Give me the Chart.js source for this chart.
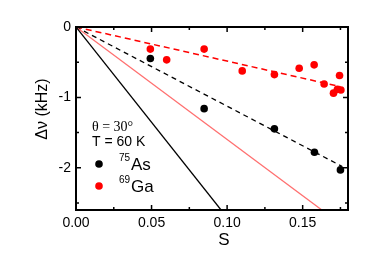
<!DOCTYPE html>
<html><head><meta charset="utf-8">
<script src="https://cdn.jsdelivr.net/npm/chart.js@4/dist/chart.umd.min.js"></script>
<style>html,body{margin:0;padding:0;background:#fff}#wrap{width:379px;height:267px}</style>
</head><body><div id="wrap"><canvas id="c" width="379" height="267"></canvas></div>
<script>
// 75As data
const asS  = [0.0492, 0.0848, 0.1313, 0.1578, 0.1750];
const asDv = [-0.447, -1.16, -1.447, -1.78, -2.03];
// 69Ga data
const gaS  = [0.0492, 0.0600, 0.0848, 0.1100, 0.1313, 0.1477, 0.1576, 0.1642, 0.1704, 0.1744, 0.1730, 0.1753];
const gaDv = [-0.314, -0.467, -0.314, -0.624, -0.676, -0.586, -0.538, -0.810, -0.940, -0.690, -0.886, -0.896];
// lines (endpoints)
const asFitS = [0, 0.176],  asFitDv = [0, -1.98];
const gaFitS = [0, 0.175],  gaFitDv = [0, -0.848];
const asCalcS = [0, 0.096], asCalcDv = [0, -2.6];
const gaCalcS = [0, 0.1627], gaCalcDv = [0, -2.6];
// ticks
const xTicks = [0, 0.05, 0.10, 0.15];
const xMinor = [0.025, 0.075, 0.125, 0.175];
const yTicks = [0, -1, -2];
const yMinor = [-0.5, -1.5, -2.5];

const pts = (xs, ys) => xs.map((x, i) => ({x, y: ys[i]}));

const framePlugin = {
  id: 'frame',
  afterDraw(chart) {
    const {ctx, chartArea: a, scales: {x, y}} = chart;
    ctx.save();
    ctx.strokeStyle = '#000';
    ctx.lineWidth = 1.5;
    ctx.beginPath();
    const tick = (px, len, vertical) => {
      if (vertical) {
        ctx.moveTo(px, a.bottom); ctx.lineTo(px, a.bottom - len);
        ctx.moveTo(px, a.top); ctx.lineTo(px, a.top + len);
      } else {
        ctx.moveTo(a.left, px); ctx.lineTo(a.left + len, px);
        ctx.moveTo(a.right, px); ctx.lineTo(a.right - len, px);
      }
    };
    xTicks.forEach(v => tick(x.getPixelForValue(v), 5, true));
    xMinor.forEach(v => tick(x.getPixelForValue(v), 3, true));
    yTicks.forEach(v => tick(y.getPixelForValue(v), 5, false));
    yMinor.forEach(v => tick(y.getPixelForValue(v), 3, false));
    ctx.stroke();
    ctx.lineWidth = 2;
    ctx.strokeRect(a.left, a.top, a.right - a.left, a.bottom - a.top);

    // axis titles
    ctx.fillStyle = '#000';
    ctx.textAlign = 'center';
    ctx.textBaseline = 'middle';
    ctx.font = '17px Arial, "Liberation Sans", sans-serif';
    ctx.fillText('S', 224, 240);
    ctx.save();
    ctx.translate(43, 109);
    ctx.rotate(-Math.PI / 2);
    ctx.font = '16px Arial, "Liberation Sans", sans-serif';
    ctx.fillText('\u0394\u03BD (kHz)', 0, 0);
    ctx.restore();

    // legend / annotations
    ctx.textAlign = 'left';
    ctx.textBaseline = 'alphabetic';
    ctx.font = '14px "Times New Roman", "Liberation Serif", serif';
    ctx.fillText('\u03B8 = 30\u00B0', 92, 131);
    ctx.font = '14px Arial, "Liberation Sans", sans-serif';
    ctx.fillText('T = 60 K', 92, 146);
    ctx.beginPath(); ctx.fillStyle = '#000'; ctx.arc(99, 164, 3.8, 0, Math.PI * 2); ctx.fill();
    ctx.beginPath(); ctx.fillStyle = '#ff0000'; ctx.arc(99, 186, 3.8, 0, Math.PI * 2); ctx.fill();
    ctx.fillStyle = '#000';
    ctx.font = '10px Arial, "Liberation Sans", sans-serif';
    ctx.fillText('75', 119, 161);
    ctx.fillText('69', 119, 183);
    ctx.font = '17px Arial, "Liberation Sans", sans-serif';
    ctx.fillText('As', 131, 170);
    ctx.fillText('Ga', 131, 192);
    ctx.restore();
  }
};

new Chart(document.getElementById('c'), {
  type: 'scatter',
  data: {
    datasets: [
      {data: pts(asCalcS, asCalcDv), showLine: true, borderColor: '#000', borderWidth: 1.3, pointRadius: 0, fill: false},
      {data: pts(gaCalcS, gaCalcDv), showLine: true, borderColor: '#ff7070', borderWidth: 1.3, pointRadius: 0, fill: false},
      {data: pts(asFitS, asFitDv), showLine: true, borderColor: '#000', borderWidth: 1.3, borderDash: [5, 4], pointRadius: 0, fill: false},
      {data: pts(gaFitS, gaFitDv), showLine: true, borderColor: '#ff0000', borderWidth: 1.5, borderDash: [6, 4], pointRadius: 0, fill: false},
      {data: pts(asS, asDv), backgroundColor: '#000', borderColor: '#000', pointRadius: 3.8, borderWidth: 0},
      {data: pts(gaS, gaDv), backgroundColor: '#ff0000', borderColor: '#ff0000', pointRadius: 3.8, borderWidth: 0}
    ]
  },
  options: {
    responsive: false,
    animation: false,
    events: [],
    layout: {padding: {left: 0, right: 31, top: 27, bottom: 0}},
    plugins: {legend: {display: false}, tooltip: {enabled: false}},
    scales: {
      x: {
        type: 'linear', min: 0, max: 0.18,
        afterFit(s) { s.height = 57; },
        afterBuildTicks(s) { s.ticks = xTicks.map(v => ({value: v})); },
        grid: {display: false, drawTicks: false},
        border: {display: false},
        ticks: {color: '#000', padding: 5, font: {size: 14, family: 'Arial, "Liberation Sans", sans-serif'},
                maxRotation: 0, callback: v => v.toFixed(2)}
      },
      y: {
        type: 'linear', min: -2.6, max: 0,
        afterFit(s) { s.width = 76; },
        afterBuildTicks(s) { s.ticks = yTicks.map(v => ({value: v})); },
        grid: {display: false, drawTicks: false},
        border: {display: false},
        ticks: {color: '#000', padding: 5, font: {size: 14, family: 'Arial, "Liberation Sans", sans-serif'},
                callback: v => String(v)}
      }
    }
  },
  plugins: [framePlugin]
});
</script>
</body></html>
